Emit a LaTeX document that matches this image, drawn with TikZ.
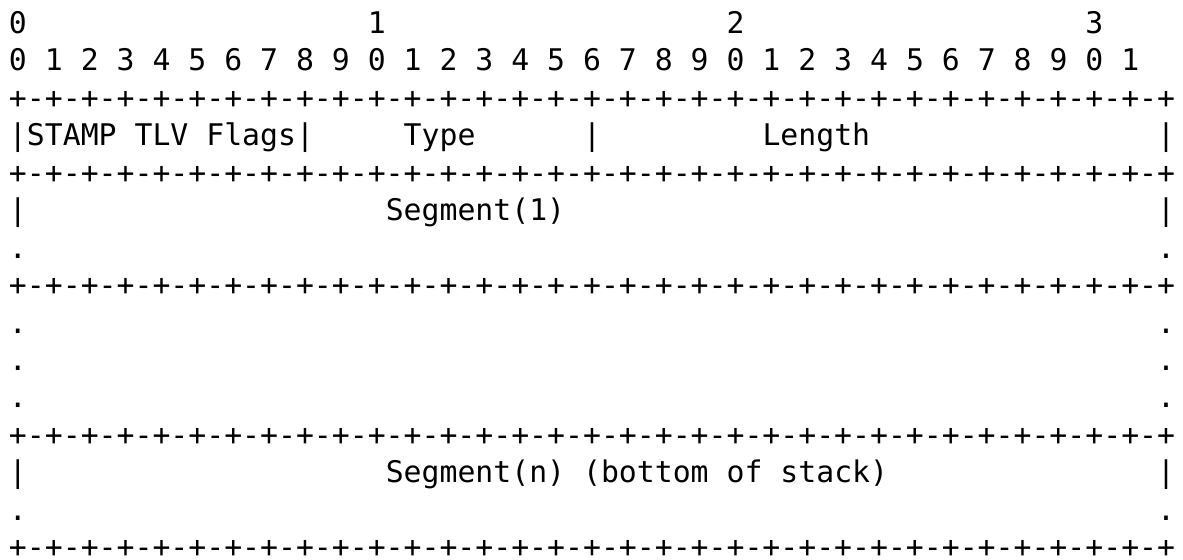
\documentclass[tikz,border=0pt]{standalone}
\usepackage{fontspec}
\newfontfamily\asciifont{DejaVu Sans Mono}
% run of n blank character cells, one cell being the width of a digit
\newcommand\gap[1]{\hspace*{#1\fontcharwd\font`0}}
\newcommand\borderline{+-+-+-+-+-+-+-+-+-+-+-+-+-+-+-+-+-+-+-+-+-+-+-+-+-+-+-+-+-+-+-+-+}
\begin{document}
\begin{tikzpicture}[x=1pt,y=1pt,
  ascii/.style={anchor=base west, inner sep=0pt, outer sep=0pt,
    font=\asciifont\fontsize{14.9pt}{18.7pt}\selectfont}]
  \useasboundingbox (0,0) rectangle (591.5,-279.5);
  % baseline of line r: -(16.7 + (r-1)*18.725)
  \def\lx{4.5}
  \node[ascii] (tens)   at (\lx,-16.7)   {0\gap{19}1\gap{19}2\gap{19}3};
  \node[ascii] (ones)   at (\lx,-35.43)  {0 1 2 3 4 5 6 7 8 9 0 1 2 3 4 5 6 7 8 9 0 1 2 3 4 5 6 7 8 9 0 1};
  \node[ascii] (b1)     at (\lx,-54.15)  {\borderline};
  \node[ascii] (hdr)    at (\lx,-72.88)  {|STAMP TLV Flags|\gap{5}Type\gap{6}|\gap{9}Length\gap{16}|};
  \node[ascii] (b2)     at (\lx,-91.6)   {\borderline};
  \node[ascii] (seg1)   at (\lx,-110.33) {|\gap{20}Segment(1)\gap{33}|};
  \node[ascii] (seg1c)  at (\lx,-129.05) {.\gap{63}.};
  \node[ascii] (b3)     at (\lx,-147.78) {\borderline};
  \node[ascii] (mid1)   at (\lx,-166.5)  {.\gap{63}.};
  \node[ascii] (mid2)   at (\lx,-185.23) {.\gap{63}.};
  \node[ascii] (mid3)   at (\lx,-203.95) {.\gap{63}.};
  \node[ascii] (b4)     at (\lx,-222.68) {\borderline};
  \node[ascii] (segn)   at (\lx,-241.4)  {|\gap{20}Segment(n) (bottom of stack)\gap{15}|};
  \node[ascii] (segnc)  at (\lx,-260.13) {.\gap{63}.};
  \node[ascii] (b5)     at (\lx,-278.85) {\borderline};
\end{tikzpicture}
\end{document}
